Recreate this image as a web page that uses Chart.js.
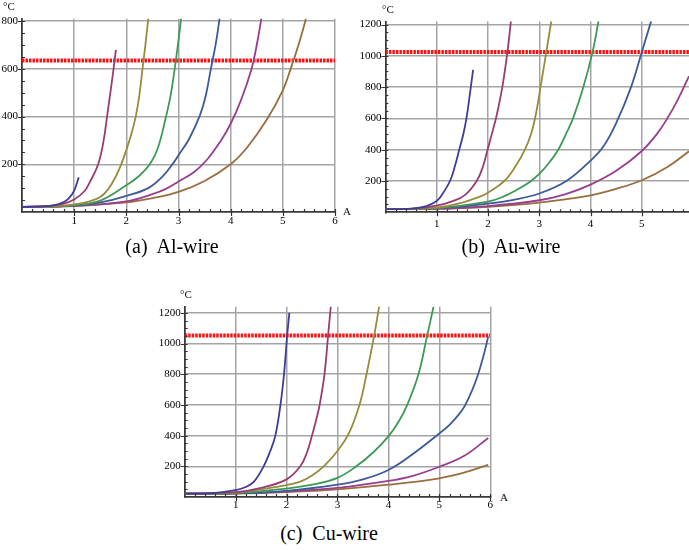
<!DOCTYPE html>
<html>
<head>
<meta charset="utf-8">
<script src="https://cdn.jsdelivr.net/npm/chart.js@4.4.1/dist/chart.umd.min.js"></script>
<style>
  body { margin: 0; background: #fff; width: 689px; height: 550px; position: relative; overflow: hidden; font-family: 'Liberation Serif', serif; }
  canvas { position: absolute; }
  .lbl { position: absolute; font-size: 11px; line-height: 1; color: #111; white-space: nowrap; }
  .cap { position: absolute; font-size: 20px; line-height: 1; color: #000; transform: translateX(-50%); white-space: nowrap; }
</style>
</head>
<body>
<canvas id="al" width="345" height="232" style="left:0;top:0"></canvas>
<canvas id="au" width="349" height="232" style="left:340px;top:0"></canvas>
<canvas id="cu" width="345" height="248" style="left:150px;top:270px"></canvas>

<span class="lbl" style="left:3px;top:1px">°C</span>
<span class="lbl" style="left:343px;top:206px">A</span>
<span class="lbl" style="left:382px;top:4px">°C</span>
<span class="lbl" style="left:180px;top:289px">°C</span>
<span class="lbl" style="left:500px;top:492px">A</span>

<span class="cap" style="left:172px;top:236px">(a)&nbsp; Al-wire</span>
<span class="cap" style="left:511px;top:236px">(b)&nbsp; Au-wire</span>
<span class="cap" style="left:329px;top:523px">(c)&nbsp; Cu-wire</span>

<script>
// colours of the 7 curves (same order in every panel)
const seriesColors = ['#3f3d99', '#993d71', '#998b3d', '#3d9956', '#3d5a99', '#993d90', '#996d3d'];

// tick values
const alXTicks = [0, 1, 2, 3, 4, 5, 6];
const alYTicks = [0, 200, 400, 600, 800];
const auXTicks = [0, 1, 2, 3, 4, 5];
const auYTicks = [0, 200, 400, 600, 800, 1000, 1200];
const cuXTicks = [0, 1, 2, 3, 4, 5, 6];
const cuYTicks = [0, 200, 400, 600, 800, 1000, 1200];

// melting temperatures (red dotted line), °C
const alMelt = 635;
const auMelt = 1025;
const cuMelt = 1052;

// (a) Al-wire : [current A, temperature °C]
const al1 = [[0,21],[0.4,24],[0.6,28],[0.8,42],[0.9,58],[1.0,90],[1.088,145]];
const al2 = [[0,21],[0.5,25],[0.8,35],[1.0,52],[1.2,88],[1.3,125],[1.46,200],[1.565,300],[1.63,400],[1.7,510],[1.755,600],[1.80,680]];
const al3 = [[0,21],[0.5,23],[1.0,32],[1.3,45],[1.5,63],[1.65,95],[1.8,150],[1.91,205],[2.0,260],[2.1,330],[2.18,400],[2.25,490],[2.31,600],[2.365,700],[2.415,800],[2.43,830]];
const al4 = [[0,21],[0.5,22],[1.0,29],[1.5,48],[2.0,112],[2.25,152],[2.45,200],[2.6,265],[2.75,390],[2.85,490],[2.92,590],[3.0,720],[3.06,830]];
const al5 = [[0,21],[1.0,27],[1.5,40],[2.0,68],[2.42,100],[2.7,150],[2.9,205],[3.0,238],[3.2,305],[3.41,405],[3.52,485],[3.62,600],[3.71,700],[3.78,800],[3.80,840]];
const al6 = [[0,21],[1.0,26],[2.0,45],[2.5,75],[2.77,98],[3.0,128],[3.3,168],[3.55,220],[3.8,295],[4.0,370],[4.2,470],[4.4,600],[4.5,700],[4.58,800],[4.6,830]];
const al7 = [[0,21],[1.0,25],[2.0,40],[2.5,58],[3.0,84],[3.5,130],[4.0,200],[4.3,266],[4.7,390],[5.0,510],[5.15,600],[5.3,700],[5.43,800],[5.46,830]];

// (b) Au-wire
const au1 = [[0,20],[0.5,24],[0.8,40],[1.0,72],[1.1,110],[1.26,200],[1.36,300],[1.44,400],[1.52,500],[1.58,600],[1.645,750],[1.71,910]];
const au2 = [[0,20],[0.5,22],[1.0,42],[1.3,70],[1.55,110],[1.78,200],[1.9,290],[2.0,410],[2.1,530],[2.17,620],[2.28,800],[2.38,1025],[2.45,1230]];
const au3 = [[0,20],[1.0,30],[1.5,62],[1.84,100],[2.0,125],[2.32,200],[2.55,300],[2.72,400],[2.84,500],[2.93,620],[3.03,810],[3.14,1030],[3.24,1230]];
const au4 = [[0,20],[1.0,27],[2.0,68],[2.3,100],[2.6,150],[2.82,195],[3.0,245],[3.2,320],[3.37,400],[3.55,520],[3.67,610],[3.86,800],[4.04,1025],[4.16,1230]];
const au5 = [[0,20],[1.0,25],[2.0,55],[2.5,80],[3.0,120],[3.53,200],[4.0,330],[4.25,420],[4.5,570],[4.79,800],[5.0,1025],[5.19,1230]];
const au6 = [[0,20],[1.0,23],[2.0,40],[3.0,77],[3.5,115],[4.0,177],[4.5,265],[5.0,392],[5.3,503],[5.5,602],[5.7,719],[5.92,870]];
const au7 = [[0,20],[1.0,22],[2.0,35],[3.0,62],[4.0,108],[4.5,150],[5.0,205],[5.5,290],[5.92,390]];

// (c) Cu-wire
const cu1 = [[0,22],[0.5,24],[1.0,45],[1.2,65],[1.36,100],[1.55,200],[1.68,300],[1.78,400],[1.88,600],[1.95,800],[2.01,1045],[2.055,1200]];
const cu2 = [[0,22],[1.0,32],[1.5,60],[2.0,115],[2.27,200],[2.4,290],[2.5,400],[2.58,500],[2.65,600],[2.745,800],[2.815,1050],[2.87,1245]];
const cu3 = [[0,22],[1.0,28],[2.0,78],[2.27,100],[2.5,140],[2.73,200],[3.0,300],[3.23,420],[3.44,610],[3.57,800],[3.72,1050],[3.82,1245]];
const cu4 = [[0,22],[1.0,26],[2.0,55],[2.5,80],[3.0,125],[3.35,195],[3.7,290],[4.0,395],[4.2,490],[4.37,600],[4.59,800],[4.76,1050],[4.89,1245]];
const cu5 = [[0,22],[1.0,24],[2.0,40],[3.0,80],[3.5,115],[4.0,176],[4.5,285],[5.0,414],[5.2,470],[5.4,545],[5.5,594],[5.65,700],[5.76,798],[5.86,910],[5.96,1045]];
const cu6 = [[0,22],[1.0,23],[2.0,37],[3.0,60],[4.0,105],[4.5,140],[5.0,197],[5.5,270],[5.96,385]];
const cu7 = [[0,22],[1.0,22],[2.0,32],[3.0,50],[4.0,80],[5.0,122],[5.5,160],[5.96,210]];

const tickFont = { family: "'Liberation Serif', serif", size: 11 };

// small inward minor ticks + outward major ticks, placed with the chart's own scales
const axisTicks = {
  id: 'axisTicks',
  afterDraw(chart, args, opts) {
    const { ctx, chartArea: a, scales: { x, y } } = chart;
    const isMajor = (v, m) => Math.abs(v / m - Math.round(v / m)) < 1e-6;
    ctx.save();
    ctx.strokeStyle = '#333';
    ctx.lineWidth = 1.2;
    ctx.beginPath();
    for (let i = 1; i * opts.xStep <= x.max + 1e-9; i++) {
      const v = i * opts.xStep;
      const px = Math.round(x.getPixelForValue(v)) + 0.5;
      if (isMajor(v, opts.xMajor)) { ctx.moveTo(px, a.bottom + 4); ctx.lineTo(px, a.bottom - 3); }
      else { ctx.moveTo(px, a.bottom); ctx.lineTo(px, a.bottom - 3); }
    }
    for (let i = 1; i * opts.yStep <= y.max + 1e-9; i++) {
      const v = i * opts.yStep;
      const py = Math.round(y.getPixelForValue(v)) + 0.5;
      if (isMajor(v, opts.yMajor)) { ctx.moveTo(a.left - 4, py); ctx.lineTo(a.left + 3, py); }
      else { ctx.moveTo(a.left, py); ctx.lineTo(a.left + 3, py); }
    }
    ctx.stroke();
    ctx.restore();
  }
};

function wireChart(id, curves, melt, xTicks, yTicks, ax) {
  const datasets = curves.map((pts, i) => ({
    data: pts.map(p => ({ x: p[0], y: p[1] })),
    borderColor: seriesColors[i],
    borderWidth: 1.8,
    pointRadius: 0,
    tension: 0.4,
    clip: 0
  }));
  // melting point line
  datasets.push({
    data: [{ x: 0, y: melt }, { x: ax.xMax, y: melt }],
    borderColor: '#ff1010',
    borderWidth: 4,
    borderDash: [2.5, 1],
    pointRadius: 0,
    clip: 0
  });

  const gridColor = c => (c.tick.value === 0 ? 'rgba(0,0,0,0)' : '#a4a4a4');

  return new Chart(document.getElementById(id), {
    type: 'line',
    data: { datasets: datasets },
    plugins: [axisTicks],
    options: {
      responsive: false,
      animation: false,
      events: [],
      layout: { padding: { top: ax.top, right: ax.right, left: 0, bottom: 0 } },
      plugins: {
        legend: { display: false },
        tooltip: { enabled: false },
        axisTicks: { xStep: 0.2, xMajor: 1, yStep: 50, yMajor: 200 }
      },
      scales: {
        x: {
          type: 'linear',
          min: 0,
          max: ax.xMax,
          afterBuildTicks: s => { s.ticks = xTicks.map(v => ({ value: v })); },
          afterFit: s => { s.height = ax.xH; },
          border: { color: '#3a3a3a', width: 1.8 },
          grid: { color: gridColor, lineWidth: 1.5, drawTicks: false },
          ticks: {
            autoSkip: false,
            maxRotation: 0,
            padding: ax.xPad,
            color: '#000',
            font: tickFont,
            callback: v => (v === 0 ? '' : v)
          }
        },
        y: {
          min: 0,
          max: ax.yMax,
          afterBuildTicks: s => { s.ticks = yTicks.map(v => ({ value: v })); },
          afterFit: s => { s.width = ax.yW; },
          border: { color: '#3a3a3a', width: 1.8 },
          grid: { color: gridColor, lineWidth: 1.5, drawTicks: false },
          ticks: {
            autoSkip: false,
            padding: 4,
            color: '#000',
            font: tickFont,
            callback: v => (v === 0 ? '' : v)
          }
        }
      }
    }
  });
}

wireChart('al', [al1, al2, al3, al4, al5, al6, al7], alMelt, alXTicks, alYTicks,
  { xMax: 6, yMax: 810, yW: 22, xH: 20, top: 18.8, right: 10, xPad: 3 });
wireChart('au', [au1, au2, au3, au4, au5, au6, au7], auMelt, auXTicks, auYTicks,
  { xMax: 5.92, yMax: 1220, yW: 45.4, xH: 19.7, top: 21.4, right: 0, xPad: 5 });
wireChart('cu', [cu1, cu2, cu3, cu4, cu5, cu6, cu7], cuMelt, cuXTicks, cuYTicks,
  { xMax: 6, yMax: 1240, yW: 34.7, xH: 21, top: 36.7, right: 4.3, xPad: 2 });
</script>
</body>
</html>
